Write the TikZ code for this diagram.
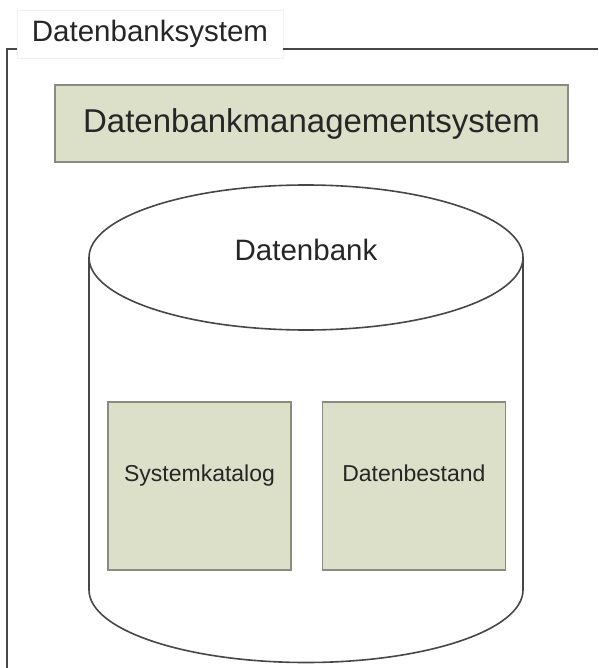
\documentclass[tikz,border=0pt]{standalone}
\usepackage{fontspec}
\setmainfont{Liberation Sans}
\usepackage{xcolor}
\definecolor{boxfill}{HTML}{DCE0C9}
\definecolor{boxline}{HTML}{8A8C84}
\definecolor{linegray}{HTML}{474747}
\usetikzlibrary{positioning}
\tikzset{
  inbox/.style={draw=boxline, fill=boxfill, line width=1.4pt, inner sep=0pt, text=black!85},
  tallbox/.style={inbox, minimum width=183pt, minimum height=168pt, text height=16pt, text depth=26pt, font=\fontsize{23}{28}\selectfont},
}

\begin{document}
\begin{tikzpicture}[x=1pt, y=-1pt, thick]
\useasboundingbox (0,0) rectangle (598,668);
%%%%% Frame %%%%%
\node[draw=gray!10, fill=white, line width=0.8pt, minimum width=266pt, minimum height=48pt, inner sep=0pt, text=black!85, font=\fontsize{29.5}{34}\selectfont] (sys) at (150,34) {Datenbanksystem};
\draw[linegray, line width=1.6pt] (sys.west |- 0,49) -- (7,49) -- (7,668);
\draw[linegray, line width=1.6pt] (sys.east |- 0,49) -- (598,49);
%%%%% DBMS %%%%%
\node[inbox, minimum width=513pt, minimum height=77pt, font=\fontsize{33}{40}\selectfont] (dbms) at (311.5,123.5) {Datenbankmanagementsystem};
%%%%% Datenbank %%%%%
\draw[linegray, line width=1.6pt, fill=white] (89,257.5) -- (89,590) arc[start angle=180, end angle=360, x radius=217pt, y radius=72.5pt] -- (523,257.5);
\draw[linegray, line width=1.6pt, fill=white] (306,257.5) ellipse [x radius=217pt, y radius=72.5pt];
\node[text=black!85, font=\fontsize{29.5}{34}\selectfont] (db) at (306,250) {Datenbank};
\node[tallbox] (kat) at (199.5,486) {Systemkatalog};
\node[tallbox, right=30pt of kat] (bestand) {Datenbestand};
\end{tikzpicture}
\end{document}
